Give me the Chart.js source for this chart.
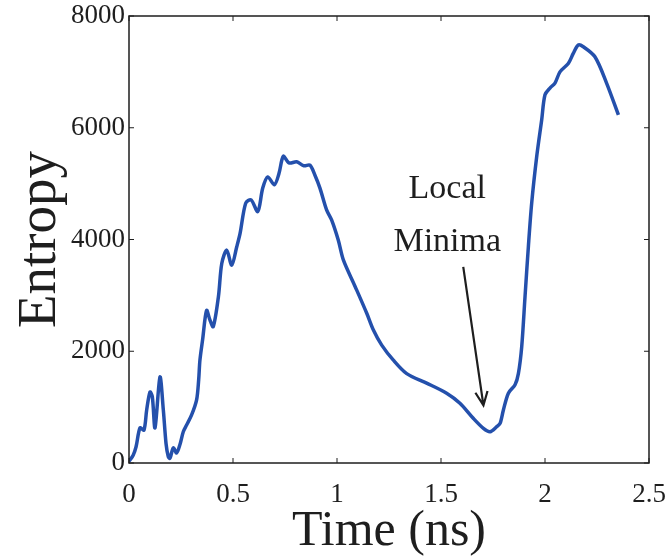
<!DOCTYPE html>
<html>
<head>
<meta charset="utf-8">
<script src="https://cdn.jsdelivr.net/npm/chart.js@4"></script>
<style>
  html, body { margin: 0; padding: 0; background: #fff; }
  #wrap { width: 670px; height: 557px; }
</style>
</head>
<body>
<div id="wrap"><canvas id="myChart" width="670" height="557"></canvas></div>
<script>
// time (ns) and entropy
const timeNs = [
  0, 0.02, 0.034, 0.053, 0.072, 0.085, 0.101, 0.112, 0.125, 0.149, 0.165, 0.178,
  0.189, 0.197, 0.213, 0.229, 0.245, 0.261, 0.277, 0.301, 0.325, 0.335, 0.341,
  0.354, 0.373, 0.389, 0.405, 0.43, 0.446, 0.47, 0.494, 0.518, 0.534, 0.561,
  0.587, 0.619, 0.643, 0.667, 0.699, 0.721, 0.742, 0.769, 0.806, 0.841, 0.87,
  0.894, 0.918, 0.95, 0.974, 1.006, 1.031, 1.087, 1.143, 1.175, 1.215, 1.271,
  1.335, 1.431, 1.527, 1.591, 1.655, 1.704, 1.736, 1.768, 1.784, 1.8, 1.824,
  1.856, 1.872, 1.888, 1.904, 1.92, 1.936, 1.96, 1.984, 2.0, 2.024, 2.048,
  2.072, 2.112, 2.136, 2.16, 2.184, 2.24, 2.296, 2.353
];
const entropy = [
  30, 140, 290, 630, 590, 950, 1270, 1190, 630, 1540, 950, 350,
  110, 85, 270, 180, 330, 560, 680, 860, 1130, 1490, 1840,
  2210, 2730, 2560, 2440, 2980, 3570, 3810, 3540, 3870, 4110, 4650,
  4710, 4500, 4920, 5120, 4980, 5180, 5490, 5370, 5390, 5320, 5330,
  5150, 4920, 4530, 4350, 3990, 3630, 3160, 2680, 2380, 2110, 1840,
  1600, 1430, 1250, 1070, 800, 620, 560, 650, 710, 950, 1250,
  1400, 1600, 2080, 2980, 3870, 4650, 5480, 6140, 6590, 6710, 6800,
  7000, 7150, 7330, 7480, 7450, 7270, 6800, 6230
];
const xTicks = [0, 0.5, 1, 1.5, 2, 2.5];
const yTicks = [0, 2000, 4000, 6000, 8000];

// "Local Minima" note and its arrow, in data units
const note = { lines: ["Local", "Minima"], x: 1.53, y: [4900, 3960] };
const arrow = { from: [1.607, 3510], to: [1.704, 1030] };

const serif = "'Liberation Serif', 'Times New Roman', serif";
const ink = "#1e1e1e";

const frame = {
  id: "frame",
  afterDatasetsDraw(chart) {
    const { ctx, chartArea: a, scales: { x, y } } = chart;
    ctx.save();
    ctx.strokeStyle = ink;
    ctx.lineWidth = 1.5;
    ctx.strokeRect(a.left, a.top, a.right - a.left, a.bottom - a.top);
    ctx.lineWidth = 1;
    const len = 5;
    x.ticks.forEach(t => {
      const px = x.getPixelForValue(t.value);
      ctx.beginPath();
      ctx.moveTo(px, a.bottom); ctx.lineTo(px, a.bottom - len);
      ctx.moveTo(px, a.top); ctx.lineTo(px, a.top + len);
      ctx.stroke();
    });
    y.ticks.forEach(t => {
      const py = y.getPixelForValue(t.value);
      ctx.beginPath();
      ctx.moveTo(a.left, py); ctx.lineTo(a.left + len, py);
      ctx.moveTo(a.right, py); ctx.lineTo(a.right - len, py);
      ctx.stroke();
    });

    // annotation
    ctx.fillStyle = ink;
    ctx.font = "34px " + serif;
    ctx.textAlign = "center";
    ctx.textBaseline = "middle";
    note.lines.forEach((s, i) => {
      ctx.fillText(s, x.getPixelForValue(note.x), y.getPixelForValue(note.y[i]));
    });
    const x0 = x.getPixelForValue(arrow.from[0]), y0 = y.getPixelForValue(arrow.from[1]);
    const x1 = x.getPixelForValue(arrow.to[0]), y1 = y.getPixelForValue(arrow.to[1]);
    ctx.strokeStyle = ink;
    ctx.lineWidth = 2.2;
    ctx.beginPath();
    ctx.moveTo(x0, y0); ctx.lineTo(x1, y1);
    const ang = Math.atan2(y1 - y0, x1 - x0), h = 15, spread = 0.42;
    ctx.moveTo(x1 - h * Math.cos(ang - spread), y1 - h * Math.sin(ang - spread));
    ctx.lineTo(x1, y1);
    ctx.lineTo(x1 - h * Math.cos(ang + spread), y1 - h * Math.sin(ang + spread));
    ctx.stroke();
    ctx.restore();
  }
};

new Chart(document.getElementById("myChart"), {
  type: "line",
  data: {
    datasets: [{
      data: timeNs.map((t, i) => ({ x: t, y: entropy[i] })),
      borderColor: "#2450ac",
      borderWidth: 3.5,
      pointRadius: 0,
      tension: 0.3,
      fill: false
    }]
  },
  options: {
    responsive: false,
    animation: false,
    layout: { padding: { left: 0, top: 16, right: 21, bottom: 0 } },
    plugins: { legend: { display: false }, tooltip: { enabled: false } },
    scales: {
      x: {
        type: "linear",
        min: 0, max: 2.5,
        grid: { display: false, drawTicks: false },
        border: { display: false },
        afterBuildTicks: s => { s.ticks = xTicks.map(v => ({ value: v })); },
        afterFit: s => { s.height = 94; s.paddingLeft = 0; s.paddingRight = 0; },
        ticks: {
          color: ink, padding: 16, maxRotation: 0,
          font: { family: serif, size: 27 },
          callback: v => String(v)
        },
        title: {
          display: true, text: "Time (ns)", color: ink,
          font: { family: serif, size: 50, lineHeight: 0.76 },
          padding: { top: 0, bottom: 6 }
        }
      },
      y: {
        min: 0, max: 8000,
        grid: { display: false, drawTicks: false },
        border: { display: false },
        afterBuildTicks: s => { s.ticks = yTicks.map(v => ({ value: v })); },
        afterFit: s => { s.width = 129; s.paddingTop = 0; s.paddingBottom = 0; },
        ticks: {
          color: ink, padding: 4,
          font: { family: serif, size: 27 },
          callback: v => String(v)
        },
        title: {
          display: true, text: "Entropy", color: ink,
          font: { family: serif, size: 55, lineHeight: 1 },
          padding: { top: 13, bottom: 0 }
        }
      }
    }
  },
  plugins: [frame]
});
</script>
</body>
</html>
